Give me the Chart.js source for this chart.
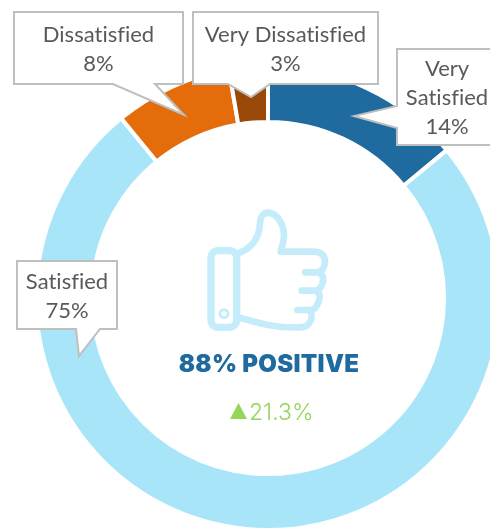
<!DOCTYPE html>
<html>
<head>
<meta charset="utf-8">
<style>
html,body{margin:0;padding:0;background:#fff;width:490px;height:529px;overflow:hidden}
#wrap{position:relative;width:490px;height:529px;overflow:hidden}
canvas{position:absolute;left:0;top:0}
</style>
<script src="https://cdn.jsdelivr.net/npm/chart.js@4/dist/chart.umd.min.js"></script>
</head>
<body>
<div id="wrap"><canvas id="c" width="536" height="596"></canvas></div>
<script>
const categories = ["Very Satisfied", "Satisfied", "Dissatisfied", "Very Dissatisfied"];
const percentValues = [14.0, 75.1, 8.2, 2.7];
const sliceColors = ["#1F6A9E", "#A9E5F9", "#E46C0A", "#984807"];
const headline = "88% POSITIVE";
const changeText = "21.3%";

const calloutShapes = [
  {rect:[397,49,100,96], tail:[[397,106],[354,116],[397,128]], lines:["Very","Satisfied"]},
  {rect:[17,261,100,68], tail:[[76,329],[79,356],[100,329]]},
  {rect:[14,12,169,72], tail:[[113,84],[184,115],[155,84]]},
  {rect:[193,12,185,72], tail:[[228,84],[251,97],[270,84]]}
];
const handPath = "M232 190 C268 180 298 150 300 100 C301 78 312 68 325 68 C352 70 372 105 372 135 C372 155 366 170 362 185 L465 185 C485 186 497 200 495 218 C493 235 485 246 470 247 L435 247 M470 247 C488 250 492 262 488 278 C484 292 478 302 465 302 L425 302 M465 302 C480 306 482 320 476 335 C470 350 465 360 448 360 L412 360 M448 360 C458 370 456 385 450 396 C444 408 436 412 420 412 C390 413 350 410 320 404 C290 398 262 388 232 382";

const overlay = {
  id: "overlay",
  afterDatasetsDraw(chart) {
    const ctx = chart.ctx;
    ctx.save();
    // callouts
    calloutShapes.forEach((s, i) => {
      const [x, y, w, h] = s.rect;
      const [a, b, c] = s.tail;
      ctx.beginPath();
      ctx.moveTo(x, y);
      ctx.lineTo(x + w, y);
      if (a[0] === x) {
        ctx.lineTo(x + w, y + h);
        ctx.lineTo(x, y + h);
        ctx.lineTo(c[0], c[1]); ctx.lineTo(b[0], b[1]); ctx.lineTo(a[0], a[1]);
      } else {
        ctx.lineTo(x + w, y + h);
        ctx.lineTo(c[0], c[1]); ctx.lineTo(b[0], b[1]); ctx.lineTo(a[0], a[1]);
        ctx.lineTo(x, y + h);
      }
      ctx.closePath();
      ctx.fillStyle = "#fff";
      ctx.fill();
      ctx.strokeStyle = "#BFBFBF";
      ctx.lineWidth = 2;
      ctx.stroke();
      const lines = (s.lines || [categories[i]]).concat(Math.round(percentValues[i]) + "%");
      ctx.fillStyle = "#595959";
      ctx.font = "22px Lato";
      ctx.letterSpacing = "0.01px";
      ctx.textAlign = "center";
      ctx.textBaseline = "middle";
      const step = 29;
      const top = y + h / 2 - (lines.length - 1) * step / 2 + 1;
      lines.forEach((t, k) => ctx.fillText(t, x + w / 2, top + k * step));
    });
    // thumb icon
    ctx.save();
    ctx.translate(160, 190);
    ctx.scale(1 / 3, 1 / 3);
    ctx.strokeStyle = "#C5ECFB";
    ctx.lineCap = "round";
    ctx.lineJoin = "round";
    ctx.lineWidth = 22;
    ctx.beginPath();
    ctx.roundRect(153, 182, 77, 230, 22);
    ctx.stroke();
    ctx.lineWidth = 20;
    ctx.stroke(new Path2D(handPath));
    ctx.lineWidth = 9;
    ctx.beginPath();
    ctx.arc(192, 371, 12, 0, Math.PI * 2);
    ctx.stroke();
    ctx.restore();
    // centre texts
    ctx.textAlign = "center";
    ctx.textBaseline = "middle";
    ctx.fillStyle = "#1F6A9E";
    ctx.font = "900 24px Inter";
    ctx.letterSpacing = "0.3px";
    ctx.fillText(headline, 269, 365);
    ctx.letterSpacing = "0px";
    ctx.fillStyle = "#92D65A";
    ctx.beginPath();
    ctx.moveTo(230, 419); ctx.lineTo(247, 419); ctx.lineTo(238.5, 403);
    ctx.closePath();
    ctx.fill();
    ctx.textAlign = "left";
    ctx.font = "300 23px Inter";
    ctx.fillText(changeText, 249, 413);
    ctx.restore();
  }
};

new Chart(document.getElementById("c"), {
  type: "doughnut",
  data: {
    labels: categories,
    datasets: [{
      data: percentValues,
      backgroundColor: sliceColors,
      borderColor: "#ffffff",
      borderWidth: 4
    }]
  },
  options: {
    responsive: false,
    animation: false,
    radius: 232,
    cutout: "75.9%",
    plugins: { legend: { display: false }, tooltip: { enabled: false } }
  },
  plugins: [overlay]
});
</script>
</body>
</html>
